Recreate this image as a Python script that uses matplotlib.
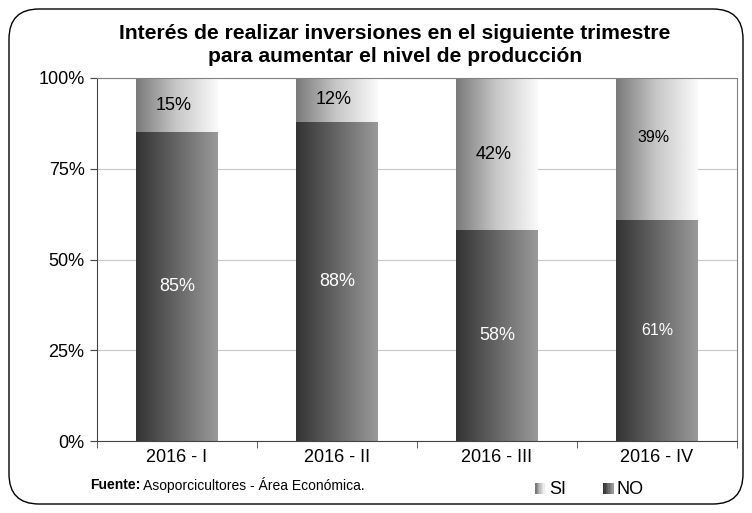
import numpy as np
import matplotlib.pyplot as plt
from matplotlib.patches import FancyBboxPatch, Rectangle
from matplotlib.colors import LinearSegmentedColormap
from matplotlib.legend_handler import HandlerBase

plt.rcParams['font.family'] = ['Liberation Sans', 'DejaVu Sans']

quarters = ['2016 - I', '2016 - II', '2016 - III', '2016 - IV']
no_vals = [85, 88, 58, 61]
si_vals = [15, 12, 42, 39]
label_sizes = [13, 13, 13, 11.5]

no_cmap = LinearSegmentedColormap.from_list('no', ['#333333', '#666666', '#9a9a9a'])
si_cmap = LinearSegmentedColormap.from_list('si', ['#7a7a7a', '#c8c8c8', '#fafafa'])

fig = plt.figure(figsize=(7.52, 5.13), dpi=100)
ax = fig.add_axes([97 / 752, 72 / 513, 640 / 752, 363 / 513])

# rounded outer frame
frame = FancyBboxPatch((9 / 752, 9 / 513), 734 / 752, 495 / 513,
                       boxstyle='round,pad=0,rounding_size=0.04',
                       transform=fig.transFigure, fill=False,
                       edgecolor='black', linewidth=1.0, mutation_aspect=752 / 513)
fig.patches.append(frame)

x = np.arange(len(quarters))
width = 0.51
grad = np.linspace(0, 1, 256).reshape(1, -1)


def gradient_bars(bars, cmap):
    for b in bars:
        b.set_facecolor('none')
        b.set_edgecolor('none')
        x0, y0 = b.get_x(), b.get_y()
        im = ax.imshow(grad, cmap=cmap, aspect='auto', zorder=2,
                       extent=(x0, x0 + b.get_width(), y0, y0 + b.get_height()))
        im.set_clip_path(b)


no_bars = ax.bar(x, no_vals, width, zorder=2)
si_bars = ax.bar(x, si_vals, width, bottom=no_vals, zorder=2)
gradient_bars(no_bars, no_cmap)
gradient_bars(si_bars, si_cmap)

for i in range(len(quarters)):
    ax.text(x[i], no_vals[i] / 2, f'{no_vals[i]}%', ha='center', va='center',
            color='white', fontsize=label_sizes[i], zorder=3)
    ax.text(x[i] - 0.02, no_vals[i] + si_vals[i] / 2 + (3 if i == 3 else 0),
            f'{si_vals[i]}%', ha='center', va='center',
            color='black', fontsize=label_sizes[i], zorder=3)

ax.set_xlim(-0.5, len(quarters) - 0.5)
ax.set_ylim(0, 100)
ax.set_yticks([0, 25, 50, 75, 100])
ax.set_yticklabels(['0%', '25%', '50%', '75%', '100%'], fontsize=13)
ax.set_xticks(x)
ax.set_xticklabels(quarters, fontsize=13)
ax.tick_params(axis='x', length=0, pad=6)
ax.set_xticks(np.arange(-0.5, len(quarters)), minor=True)
ax.tick_params(axis='x', which='minor', length=5, color='#444444')
ax.tick_params(axis='y', length=5, color='#444444', pad=4)
ax.yaxis.grid(True, color='#c8c8c8', linewidth=0.8, zorder=0)
ax.set_axisbelow(True)
for side in ['left', 'bottom']:
    ax.spines[side].set_color('#444444')
for side in ['top', 'right']:
    ax.spines[side].set_color('#808080')

fig.text(395 / 752, 1 - 45 / 513,
         'Interés de realizar inversiones en el siguiente trimestre\npara aumentar el nivel de producción',
         ha='center', va='center', fontsize=15.2, fontweight='bold', linespacing=1.3)

# source line: bold prefix followed by regular text
fuente = fig.text(90 / 752, 1 - 485 / 513, 'Fuente:', fontsize=10, va='center',
                  fontweight='bold')
fig.canvas.draw()
bb = fuente.get_window_extent().transformed(fig.transFigure.inverted())
fig.text(bb.x1, 1 - 485 / 513, ' Asoporcicultores - Área Económica.',
         fontsize=10, va='center')


class GradientHandler(HandlerBase):
    def __init__(self, cmap):
        super().__init__()
        self.cmap = cmap

    def create_artists(self, legend, orig_handle, xdescent, ydescent,
                       width, height, fontsize, trans):
        n = 8
        side = height * 0.85
        x0 = width - side
        arts = []
        for k in range(n):
            r = Rectangle((x0 + k * side / n - xdescent, -ydescent + height * 0.05),
                          side / n, side,
                          facecolor=self.cmap(k / (n - 1)), edgecolor='none',
                          transform=trans)
            arts.append(r)
        return arts


h_si = Rectangle((0, 0), 1, 1)
h_no = Rectangle((0, 0), 1, 1)
fig.legend([h_si, h_no], ['SI', 'NO'],
           handler_map={h_si: GradientHandler(si_cmap), h_no: GradientHandler(no_cmap)},
           loc='center', bbox_to_anchor=(588 / 752, 1 - 490 / 513), ncol=2,
           frameon=False, fontsize=13, handlelength=0.75, handletextpad=0.15,
           columnspacing=1.9)

fig.savefig('out.png', dpi=100)
